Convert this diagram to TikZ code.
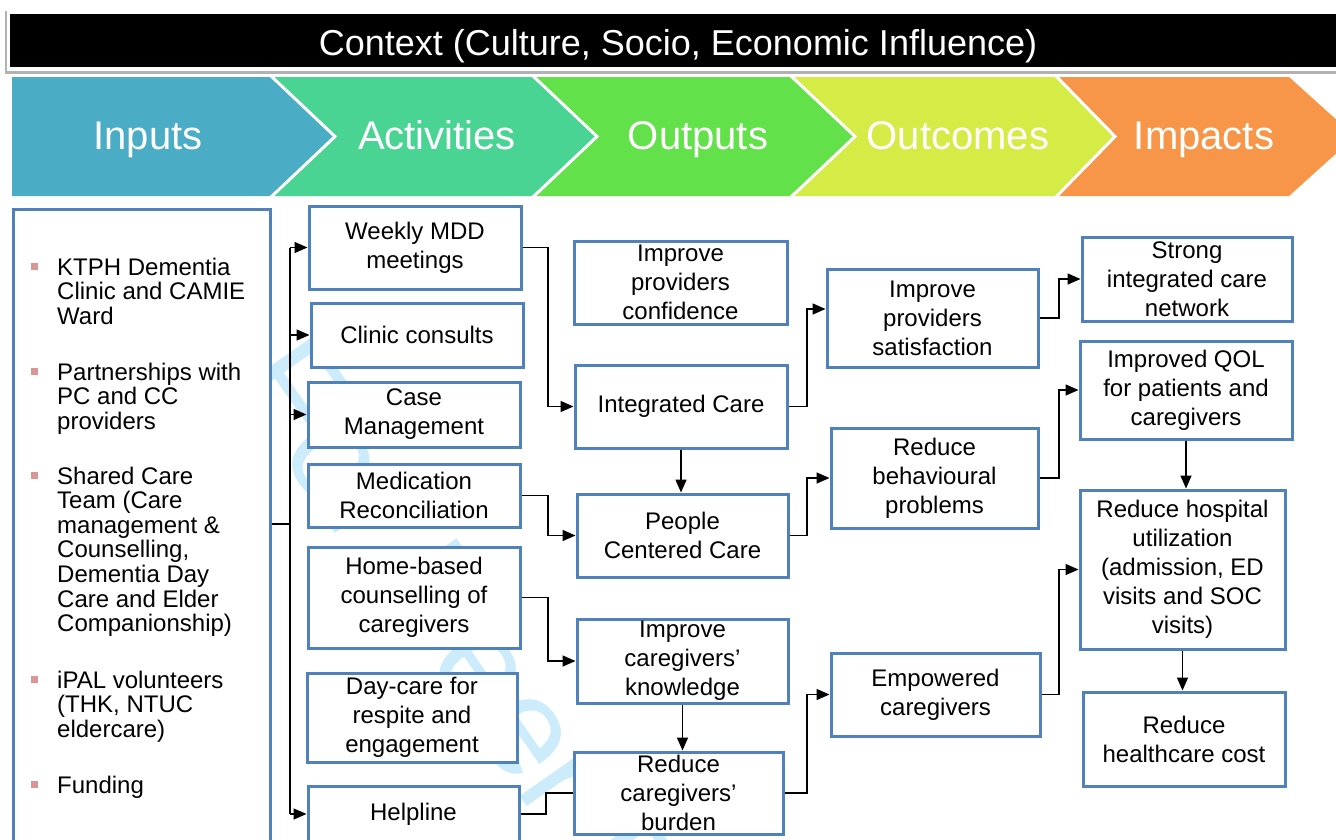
\documentclass[tikz,border=0pt]{standalone}
\usepackage{fontspec}
\setmainfont{Liberation Sans}
\usetikzlibrary{arrows.meta}

\definecolor{boxblue}{RGB}{79,129,189}
\definecolor{inpc}{RGB}{75,172,198}
\definecolor{actc}{RGB}{74,212,148}
\definecolor{outc}{RGB}{98,225,74}
\definecolor{outcc}{RGB}{213,236,71}
\definecolor{impc}{RGB}{247,150,72}
\definecolor{bulletc}{RGB}{217,150,148}
\definecolor{wmark}{RGB}{204,236,252}

\tikzset{
  box/.style={draw=boxblue, line width=3pt, fill=white, inner sep=0pt,
    align=center, font=\fontsize{24}{29}\selectfont},
  conn/.style={line width=1.6pt, black},
  arr/.style={conn, -{Triangle[length=13pt,width=11pt]}},
  chevsep/.style={draw=white, line width=3pt},
  chevlabel/.style={text=white, anchor=base, font=\fontsize{40}{44}\selectfont},
  bulletsq/.style={fill=bulletc, minimum size=7pt, inner sep=0pt},
  itemtext/.style={anchor=base west, inner sep=0pt, font=\fontsize{24}{24.6}\selectfont},
}

% box from corner (x1,y1) to corner (x2,y2)
\newcommand\mkbox[6]{%
  \node[box, minimum width={(#4-#2)*1pt}, minimum height={(#5-#3)*1pt}]
    (#1) at ({(#2+#4)/2},{(#3+#5)/2}) {#6};}

\begin{document}
\begin{tikzpicture}[x=1pt,y=-1pt]
\useasboundingbox (0,0) rectangle (1336,839);
\fill[white] (0,0) rectangle (1336,839);

% context banner
\fill[black!30] (5,11) rectangle (1345,74);
\fill[white] (7,10) rectangle (1345,71);
\fill[black] (10,14) rectangle (1345,67);
\node[text=white, anchor=base, font=\fontsize{36}{40}\selectfont] (ctx) at (678,55)
  {Context (Culture, Socio, Economic Influence)};

% stage chevrons
\fill[inpc]  (12,77) -- (270,77) -- (335,136.5) -- (270,196) -- (12,196) -- cycle;
\fill[actc]  (270,77) -- (532,77) -- (597,136.5) -- (532,196) -- (270,196) -- (335,136.5) -- cycle;
\fill[outc]  (532,77) -- (790,77) -- (855,136.5) -- (790,196) -- (532,196) -- (597,136.5) -- cycle;
\fill[outcc] (790,77) -- (1055,77) -- (1115,136.5) -- (1055,196) -- (790,196) -- (855,136.5) -- cycle;
\fill[impc]  (1055,77) -- (1289,77) -- (1355,136.5) -- (1289,196) -- (1055,196) -- (1115,136.5) -- cycle;
\draw[chevsep] (270,75) -- (335,136.5) -- (270,198);
\draw[chevsep] (532,75) -- (597,136.5) -- (532,198);
\draw[chevsep] (790,75) -- (855,136.5) -- (790,198);
\draw[chevsep] (1055,75) -- (1115,136.5) -- (1055,198);
\node[chevlabel] (lin)  at (148,149.5)  {Inputs};
\node[chevlabel] (lact) at (437,149.5)  {Activities};
\node[chevlabel] (lout) at (698,149.5)  {Outputs};
\node[chevlabel] (loc)  at (958,149.5)  {Outcomes};
\node[chevlabel] (limp) at (1204,149.5) {Impacts};

% watermark
\node[text=wmark, anchor=base west, rotate=-55, inner sep=0pt,
  font=\fontsize{140}{140}\selectfont] (wm) at (229,381) {For Peer Review};

% inputs panel
\node[draw=boxblue, line width=3pt, fill=white, inner sep=0pt,
  minimum width=257pt, minimum height=641pt] (inputs) at (141.5,529.5) {};
\node[bulletsq] (b1) at (34.5,266) {};
\node[bulletsq] (b2) at (34.5,371) {};
\node[bulletsq] (b3) at (34.5,475) {};
\node[bulletsq] (b4) at (34.5,679) {};
\node[bulletsq] (b5) at (34.5,784) {};
\node[itemtext] (t1) at (57,275) {\parbox[t]{215pt}{\raggedright KTPH Dementia\\Clinic and CAMIE\\Ward}};
\node[itemtext] (t2) at (57,380) {\parbox[t]{215pt}{\raggedright Partnerships with\\PC and CC\\providers}};
\node[itemtext] (t3) at (57,484) {\parbox[t]{215pt}{\raggedright Shared Care\\Team (Care\\management \&\\Counselling,\\Dementia Day\\Care and Elder\\Companionship)}};
\node[itemtext] (t4) at (57,688) {\parbox[t]{215pt}{\raggedright iPAL volunteers\\(THK, NTUC\\eldercare)}};
\node[itemtext] (t5) at (57,793) {\parbox[t]{215pt}{\raggedright Funding}};

% activities
\mkbox{mdd}{309}{206}{521}{289}{Weekly MDD\\meetings}
\mkbox{clinic}{311}{303}{523}{367}{Clinic consults}
\mkbox{casem}{308}{382}{520}{447}{Case\\Management}
\mkbox{medrec}{308}{464}{520}{527}{Medication\\Reconciliation}
\mkbox{home}{308}{547}{520}{648}{Home-based\\counselling of\\caregivers}
\mkbox{daycare}{307}{673}{517}{762}{Day-care for\\respite and\\engagement}
\mkbox{help}{308}{786}{519}{842}{Helpline}

% outputs
\mkbox{conf}{574}{241}{787}{324}{Improve\\providers\\confidence}
\mkbox{integ}{575}{365}{787}{448}{Integrated Care}
\mkbox{pcc}{577}{494}{788}{577}{People\\Centered Care}
\mkbox{know}{577}{619}{788}{703}{Improve\\caregivers’\\knowledge}
\mkbox{burden}{574}{752}{783}{834}{Reduce\\caregivers’\\burden}

% outcomes
\mkbox{sat}{827}{269}{1038}{367}{Improve\\providers\\satisfaction}
\mkbox{beh}{831}{428}{1038}{528}{Reduce\\behavioural\\problems}
\mkbox{emp}{831}{653}{1040}{736}{Empowered\\caregivers}

% impacts
\mkbox{strong}{1082}{237}{1292}{321}{Strong\\integrated care\\network}
\mkbox{qol}{1080}{341}{1292}{439}{Improved QOL\\for patients and\\caregivers}
\mkbox{hosp}{1080}{490}{1285}{649}{Reduce hospital\\utilization\\(admission, ED\\visits and SOC\\visits)}
\mkbox{cost}{1083}{692}{1285}{786}{Reduce\\healthcare cost}

% connector columns
\coordinate (trunk) at (290,524);
\coordinate (colA) at (548,0);
\coordinate (colAh) at (546,0);
\coordinate (colB) at (807,0);
\coordinate (colC) at (1059,0);

% inputs to activities
\draw[conn] (inputs.east |- trunk) -- (trunk);
\draw[conn] (trunk |- mdd.west) -- (trunk |- help.west);
\draw[arr] (trunk |- mdd.west) -- (mdd.west);
\draw[arr] (trunk |- clinic.west) -- (clinic.west);
\draw[arr] (trunk |- casem.west) -- (casem.west);
\draw[arr] (trunk |- help.west) -- (help.west);

% activities to outputs
\draw[arr] (mdd.east) -- (mdd.east -| colA) |- (integ.west);
\draw[arr] (medrec.east) -- (medrec.east -| colA) |- (pcc.west);
\draw[arr] (home.east) -- (home.east -| colA) |- (know.west);
\draw[conn] (help.east) -- (help.east -| colAh) |- (burden.west);

% outputs to outcomes
\draw[arr] (integ.south) -- (integ.south |- pcc.north);
\draw[arr] (know.south) -- (know.south |- burden.north);
\draw[arr] (integ.east) -- (integ.east -| colB) |- ([yshift=9pt]sat.west);
\draw[arr] (pcc.east) -- (pcc.east -| colB) |- (beh.west);
\draw[arr] (burden.east) -- (burden.east -| colB) |- (emp.west);

% outcomes to impacts
\draw[arr] (sat.east) -- (sat.east -| colC) |- (strong.west);
\draw[arr] (beh.east) -- (beh.east -| colC) |- (qol.west);
\draw[arr] (emp.east) -- (emp.east -| colC) |- (hosp.west);
\draw[arr] (qol.south) -- (qol.south |- hosp.north);
\draw[arr] (hosp.south) -- (hosp.south |- cost.north);
\end{tikzpicture}
\end{document}
